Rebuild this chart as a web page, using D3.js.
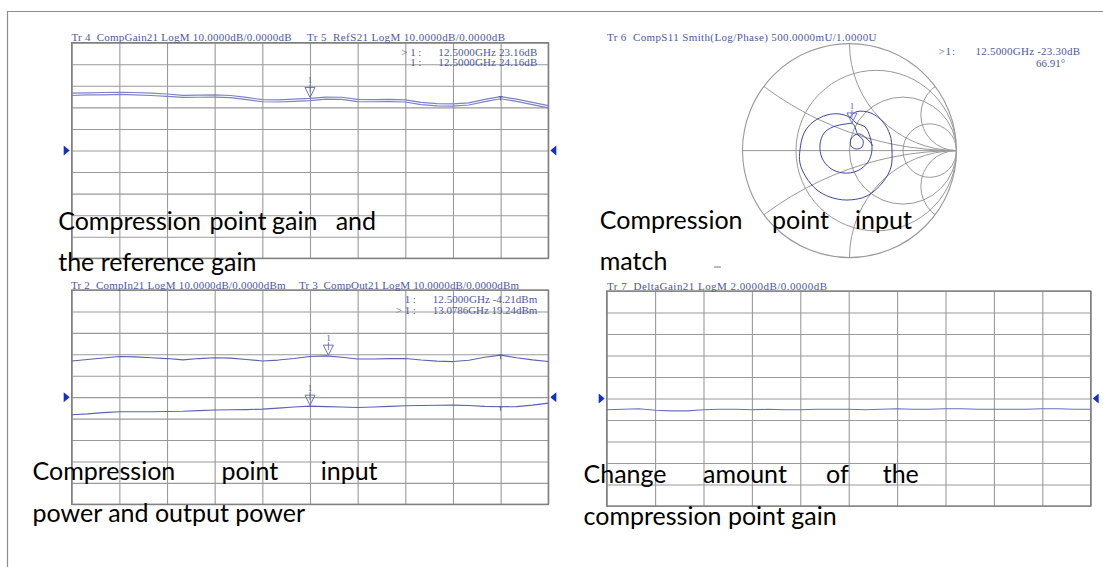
<!DOCTYPE html>
<html>
<head>
<meta charset="utf-8">
<script src="https://cdn.jsdelivr.net/npm/d3@7"></script>
<style>
  body { margin: 0; background: #fff; }
  svg { display: block; }
  .hdr { font-family: "Liberation Serif", serif; font-size: 11px; fill: #4e58a6; white-space: pre; }
  .lbl { font-family: Lato, "Open Sans", sans-serif; font-size: 25px; fill: #000; white-space: pre; }
  .grid line { stroke: #9a9a9a; stroke-width: 1.1; }
  .grid .domain { display: none; }
</style>
</head>
<body>
<script>

var width = 1103,
    height = 567;

// sweep points, GHz (5 - 20 GHz, 1.5 GHz/div)
var freqs = [5, 5.5, 6, 6.5, 7, 7.5, 8, 8.5, 9, 9.5, 10, 10.5, 11, 11.5, 12, 12.5,
             13, 13.5, 14, 14.5, 15, 15.5, 16, 16.5, 17, 17.5, 18, 18.5, 19, 19.5, 20];

// Tr 5 RefS21, dB
var refS21 = [26.6, 26.7, 26.9, 27.0, 26.9, 26.6, 26.2, 25.6, 25.7, 25.8, 25.5, 24.6, 23.6, 23.5, 23.8, 24.16,
              24.8, 24.7, 23.7, 23.6, 23.7, 23.5, 22.3, 21.7, 21.6, 22.1, 23.7, 25.0, 23.8, 22.3, 20.8];
// Tr 4 CompGain21, dB
var compGain21 = [25.5, 25.8, 25.8, 26.0, 25.8, 25.5, 25.1, 24.6, 24.7, 24.8, 24.5, 23.6, 22.6, 22.5, 22.8, 23.16,
                  23.8, 23.7, 22.7, 22.6, 22.7, 22.5, 21.3, 20.7, 20.6, 21.1, 22.7, 24.0, 22.8, 21.3, 19.8];
// Tr 2 CompIn21, dBm
var compIn21 = [-8.2, -7.8, -7.2, -6.8, -6.8, -6.8, -6.7, -6.6, -6.3, -6.0, -5.9, -5.8, -5.6, -5.1, -4.6, -4.21,
                -4.4, -4.6, -4.8, -4.6, -4.3, -4.0, -3.9, -3.8, -3.7, -3.9, -4.3, -4.5, -4.4, -3.7, -2.8];
// Tr 3 CompOut21, dBm
var compOut21 = [16.9, 17.6, 18.3, 19.0, 18.8, 18.4, 18.0, 17.4, 18.0, 18.4, 18.2, 17.6, 16.9, 17.3, 18.0, 18.95,
                 19.24, 18.6, 17.8, 17.8, 18.0, 18.0, 17.3, 16.8, 16.6, 17.2, 18.6, 19.6, 18.4, 17.4, 16.6];
// Tr 7 DeltaGain21, dB
var deltaGain21 = [-1.05, -1.0, -0.95, -1.1, -1.15, -1.15, -1.05, -1.0, -1.0, -1.05, -1.0, -1.05, -1.05, -1.0, -1.0, -1.0,
                   -1.05, -1.0, -0.95, -1.0, -1.0, -0.95, -0.95, -1.0, -1.0, -1.0, -1.0, -0.95, -0.95, -1.0, -1.0];

// Tr 6 CompS11 trace on the Smith chart (reflection coefficient, real / imag)
var smithRe = [-0.005, 0.067, 0.201, 0.313, 0.379, 0.397, 0.388, 0.313, 0.164, -0.023, -0.182, -0.304, -0.407, -0.463,
               -0.463, -0.425, -0.341, -0.210, -0.089, 0.014, 0.061, 0.145, 0.192, 0.210, 0.173, 0.070, -0.061, -0.182,
               -0.257, -0.276, -0.238, -0.154, -0.033, 0.033, 0.079, 0.126, 0.117, 0.061, 0.014, 0.014, 0.051, 0.098,
               0.154, 0.192, 0.220];
var smithIm = [0.305, 0.364, 0.351, 0.267, 0.146, 0.006, -0.153, -0.293, -0.424, -0.462, -0.434, -0.368, -0.247, -0.116,
               0.006, 0.164, 0.267, 0.333, 0.342, 0.305, 0.258, 0.221, 0.127, 0.006, -0.107, -0.191, -0.209, -0.163,
               -0.069, 0.052, 0.164, 0.221, 0.249, 0.249, 0.146, 0.099, 0.034, 0.015, 0.043, 0.108, 0.146, 0.155,
               0.118, 0.080, 0.043];

// Smith chart grid: resistance circles and reactance arcs
var smithR = [0.3333, 1, 3];
var smithX = [0.3333, 1, 3];

var traceBlue = "#5a62b4",
    arrowBlue = "#1230c8";

var svg = d3.select("body").append("svg")
    .attr("width", width)
    .attr("height", height);

// page frame
svg.append("path")
    .attr("d", "M7.5," + height + "V11.5H" + width)
    .attr("fill", "none")
    .attr("stroke", "#8c8c8c")
    .attr("stroke-width", 1.2);

var CH = 5.5; // instrument font cell width

function hdr(x, y, s) {
  return svg.append("text").attr("class", "hdr")
      .attr("x", x).attr("y", y)
      .attr("textLength", s.length * CH)
      .attr("lengthAdjust", "spacing")
      .text(s);
}

// marker readout, right aligned like the analyser does it
function readout(box, row, active, s) {
  var right = box.x1 - 11,
      y = box.y0 + 13 + row * 10.5,
      left = right - s.length * CH;
  hdr(left, y, s);
  hdr(left - 28, y, "1:");
  if (active) hdr(left - 37, y, ">");
}

function interp(xs, ys, f) {
  var i = d3.bisectLeft(xs, f);
  if (i <= 0) return ys[0];
  if (i >= xs.length) return ys[ys.length - 1];
  var t = (f - xs[i - 1]) / (xs[i] - xs[i - 1]);
  return ys[i - 1] + t * (ys[i] - ys[i - 1]);
}

function panel(box, perDiv) {
  var x = d3.scaleLinear().domain([5, 20]).range([box.x0, box.x1]);
  var y = d3.scaleLinear().domain([-5 * perDiv, 5 * perDiv]).range([box.y1, box.y0]);
  var g = svg.append("g");

  g.append("g").attr("class", "grid")
      .attr("transform", "translate(0," + box.y1 + ")")
      .call(d3.axisBottom(x)
        .tickValues(d3.range(11).map(function(i) { return 5 + i * 1.5; }))
        .tickSize(-(box.y1 - box.y0)).tickFormat(""));

  g.append("g").attr("class", "grid")
      .attr("transform", "translate(" + box.x0 + ",0)")
      .call(d3.axisLeft(y)
        .tickValues(d3.range(11).map(function(i) { return (i - 5) * perDiv; }))
        .tickSize(-(box.x1 - box.x0)).tickFormat(""));

  g.append("rect")
      .attr("x", box.x0).attr("y", box.y0)
      .attr("width", box.x1 - box.x0).attr("height", box.y1 - box.y0)
      .attr("fill", "none").attr("stroke", "#808080").attr("stroke-width", 1.4);

  // reference position arrows
  var ry = y(0);
  g.append("path")
      .attr("d", "M" + (box.x0 - 8) + "," + (ry - 5) + "l6,5l-6,5z")
      .attr("fill", arrowBlue);
  g.append("path")
      .attr("d", "M" + (box.x1 + 8) + "," + (ry - 5) + "l-6,5l6,5z")
      .attr("fill", arrowBlue);

  return {g: g, x: x, y: y};
}

function trace(p, vals, color, w) {
  var line = d3.line()
      .x(function(d, i) { return p.x(freqs[i]); })
      .y(function(d) { return p.y(d); });
  p.g.append("path")
      .datum(vals)
      .attr("fill", "none")
      .attr("stroke", color)
      .attr("stroke-width", w)
      .attr("stroke-linejoin", "round")
      .attr("d", line);
}

function marker(g, px, py) {
  g.append("path")
      .attr("d", "M" + (px - 5) + "," + (py - 11) + "h10l-5,10z")
      .attr("fill", "none").attr("stroke", traceBlue).attr("stroke-width", 0.9);
  g.append("line")
      .attr("x1", px).attr("x2", px).attr("y1", py - 14).attr("y2", py - 6)
      .attr("stroke", traceBlue).attr("stroke-width", 0.8);
  g.append("text")
      .attr("x", px).attr("y", py - 15)
      .attr("text-anchor", "middle")
      .style("font-family", "Liberation Serif, serif").style("font-size", "9px")
      .attr("fill", traceBlue)
      .text("1");
}

function tick(g, px, py) {
  g.append("path")
      .attr("d", "M" + (px - 2) + "," + py + "h4M" + px + "," + py + "v4")
      .attr("stroke", traceBlue).attr("stroke-width", 1);
}

// ---- top left: compression gain / reference gain
var tlBox = {x0: 71.7, x1: 548.3, y0: 42.7, y1: 258.3};
var tl = panel(tlBox, 10);
trace(tl, refS21, "#7d82c6", 1.2);
trace(tl, compGain21, "#7d82c6", 1.2);
marker(tl.g, tl.x(12.5), tl.y(interp(freqs, refS21, 12.5)));
tick(tl.g, tl.x(18.5), tl.y(interp(freqs, refS21, 18.5)));
hdr(71.5, 40.5, "Tr 4  CompGain21 LogM 10.0000dB/0.0000dB");
hdr(307, 40.5, "Tr 5  RefS21 LogM 10.0000dB/0.0000dB");
readout(tlBox, 0, true, "12.5000GHz 23.16dB");
readout(tlBox, 1, false, "12.5000GHz 24.16dB");

// ---- bottom left: compression input / output power
var blBox = {x0: 71.7, x1: 548.3, y0: 290, y1: 504.3};
var bl = panel(blBox, 10);
trace(bl, compOut21, traceBlue, 1.1);
trace(bl, compIn21, traceBlue, 1.1);
marker(bl.g, bl.x(13.0786), bl.y(interp(freqs, compOut21, 13.0786)));
marker(bl.g, bl.x(12.5), bl.y(interp(freqs, compIn21, 12.5)));
tick(bl.g, bl.x(18.5), bl.y(interp(freqs, compOut21, 18.5)));
tick(bl.g, bl.x(18.5), bl.y(interp(freqs, compIn21, 18.5)));
hdr(71, 288.5, "Tr 2  CompIn21 LogM 10.0000dB/0.0000dBm");
hdr(299, 288.5, "Tr 3  CompOut21 LogM 10.0000dB/0.0000dBm");
readout(blBox, 0, false, "12.5000GHz -4.21dBm");
readout(blBox, 1, true, "13.0786GHz 19.24dBm");

// ---- bottom right: delta gain
var brBox = {x0: 606.7, x1: 1090.7, y0: 291, y1: 506};
var br = panel(brBox, 2);
trace(br, deltaGain21, "#6a70c0", 1.1);
hdr(607, 289.5, "Tr 7  DeltaGain21 LogM 2.0000dB/0.0000dB");

// ---- top right: Smith chart
var sc = {cx: 849.5, cy: 150.6, r: 107};
var gx = d3.scaleLinear().domain([-1, 1]).range([sc.cx - sc.r, sc.cx + sc.r]);
var gy = d3.scaleLinear().domain([-1, 1]).range([sc.cy + sc.r, sc.cy - sc.r]);

svg.append("clipPath").attr("id", "smithClip")
  .append("circle").attr("cx", sc.cx).attr("cy", sc.cy).attr("r", sc.r);

var sg = svg.append("g")
    .attr("clip-path", "url(#smithClip)")
    .attr("fill", "none")
    .attr("stroke", "#999")
    .attr("stroke-width", 1);

sg.selectAll(".rc")
    .data(smithR)
  .enter().append("circle")
    .attr("cx", function(d) { return gx(d / (1 + d)); })
    .attr("cy", gy(0))
    .attr("r", function(d) { return sc.r / (1 + d); });

sg.selectAll(".xc")
    .data(smithX.concat(smithX.map(function(d) { return -d; })))
  .enter().append("circle")
    .attr("cx", gx(1))
    .attr("cy", function(d) { return gy(1 / d); })
    .attr("r", function(d) { return sc.r / Math.abs(d); });

sg.append("line")
    .attr("x1", gx(-1)).attr("x2", gx(1))
    .attr("y1", gy(0)).attr("y2", gy(0));

svg.append("circle")
    .attr("cx", sc.cx).attr("cy", sc.cy).attr("r", sc.r)
    .attr("fill", "none").attr("stroke", "#999").attr("stroke-width", 1.1);

var smithLine = d3.line()
    .x(function(d, i) { return gx(smithRe[i]); })
    .y(function(d, i) { return gy(smithIm[i]); })
    .curve(d3.curveCatmullRom);

svg.append("path")
    .datum(smithRe)
    .attr("fill", "none")
    .attr("stroke", "#3d47aa")
    .attr("stroke-width", 1)
    .attr("d", smithLine);

marker(svg, gx(smithRe[0]) + 3, gy(smithIm[0]) + 6);

hdr(607, 41, "Tr 6  CompS11 Smith(Log/Phase) 500.0000mU/1.0000U");
hdr(938.5, 55, ">1:");
hdr(975.5, 55, "12.5000GHz -23.30dB");
svg.append("text").attr("class", "hdr").attr("x", 1036).attr("y", 67).text("66.91°");

svg.append("line")
    .attr("x1", 714).attr("x2", 721).attr("y1", 267).attr("y2", 267)
    .attr("stroke", "#777").attr("stroke-width", 1);

// ---- captions (justified in the source document)
function caption(words, xs, y) {
  svg.selectAll(null)
      .data(words)
    .enter().append("text")
      .attr("class", "lbl")
      .attr("x", function(d, i) { return xs[i]; })
      .attr("y", y)
      .text(function(d) { return d; });
}

caption(["Compression", "point", "gain", "and"], [58.2, 209.6, 272, 335.7], 230);
caption(["the reference gain"], [58.2], 271);
caption(["Compression", "point", "input"], [599.8, 772, 855], 229);
caption(["match"], [599.8], 270);
caption(["Compression", "point", "input"], [32.5, 221.4, 320.7], 480);
caption(["power and output power"], [32.5], 521.5);
caption(["Change", "amount", "of", "the"], [583.5, 703, 826, 882.7], 482.5);
caption(["compression point gain"], [583.5], 524.5);

</script>
</body>
</html>
